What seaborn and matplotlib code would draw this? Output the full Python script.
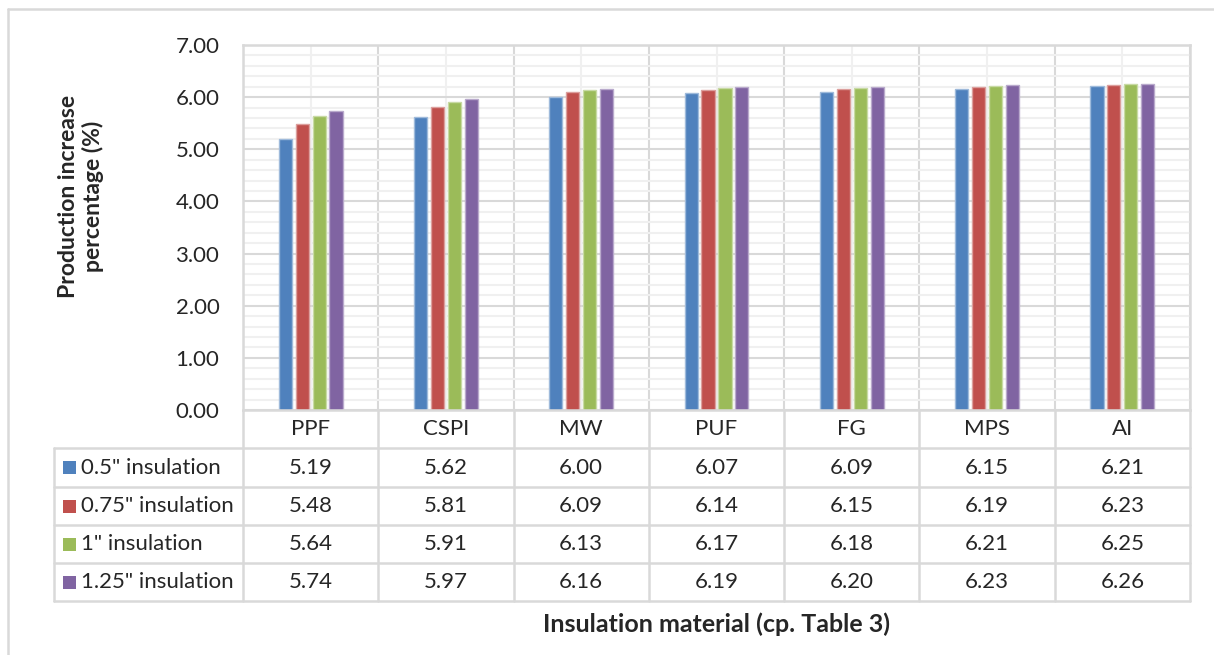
import matplotlib
matplotlib.use("Agg")
import matplotlib.pyplot as plt
import matplotlib.transforms as mtransforms
from matplotlib.lines import Line2D
from matplotlib.patches import Rectangle
import matplotlib.colors as mcolors
import seaborn as sns
import pandas as pd
import numpy as np

# ---------------- data ----------------
categories = ["PPF", "CSPI", "MW", "PUF", "FG", "MPS", "AI"]
series_names = ['0.5" insulation', '0.75" insulation', '1" insulation', '1.25" insulation']
ins_05 = [5.19, 5.62, 6.00, 6.07, 6.09, 6.15, 6.21]
ins_075 = [5.48, 5.81, 6.09, 6.14, 6.15, 6.19, 6.23]
ins_1 = [5.64, 5.91, 6.13, 6.17, 6.18, 6.21, 6.25]
ins_125 = [5.74, 5.97, 6.16, 6.19, 6.20, 6.23, 6.26]
y_tick_values = [0, 1, 2, 3, 4, 5, 6, 7]
y_tick_labels = ["0.00", "1.00", "2.00", "3.00", "4.00", "5.00", "6.00", "7.00"]
y_label = "Production increase\npercentage (%)"
x_label = "Insulation material (cp. Table 3)"
colors = ["#4F81BD", "#C0504D", "#9BBB59", "#8064A2"]

all_series = [ins_05, ins_075, ins_1, ins_125]
df = pd.DataFrame({
    "material": [c for s in all_series for c in categories],
    "series": [n for n, s in zip(series_names, all_series) for _ in s],
    "value": [v for s in all_series for v in s],
})

# ---------------- style ----------------
sns.set_style("white")
plt.rcParams["font.family"] = ["Lato", "DejaVu Sans"]
TXT = "#262626"
GRID = "#D9D9D9"
MINOR = "#F0F0F0"
FS = 16

W, H = 1214, 655
fig = plt.figure(figsize=(W / 100, H / 100), dpi=100)

def fx(px):
    return px / W

def fy(py):
    return 1 - py / H

L, R, T, B = 243, 1190, 45, 410
ax = fig.add_axes([fx(L), fy(B), (R - L) / W, (B - T) / H])

sns.barplot(data=df, x="material", y="value", hue="series", order=categories,
            hue_order=series_names, palette=colors, width=0.5, gap=0.22,
            saturation=1, legend=False, ax=ax, errorbar=None)

for p in ax.patches:
    fc = np.array(mcolors.to_rgb(p.get_facecolor()))
    p.set_edgecolor(tuple(fc + (1 - fc) * 0.45))
    p.set_linewidth(1.0)

ax.set_ylim(0, 7)
ax.set_xlim(-0.5, len(categories) - 0.5)
ax.set_yticks(y_tick_values)
ax.set_yticklabels(y_tick_labels, fontsize=FS, color=TXT)
ax.set_yticks(np.arange(0, 7.001, 0.2), minor=True)
ax.set_xticks(np.arange(-0.5, len(categories), 1.0))
ax.set_xticks(np.arange(0, len(categories), 1.0), minor=True)
ax.set_xticklabels([])
ax.tick_params(axis="both", which="both", length=0)
ax.tick_params(axis="y", pad=17)
ax.set_xlabel("")
ax.set_ylabel("")
ax.grid(which="minor", axis="both", color=MINOR, lw=1.5)
ax.grid(which="major", axis="both", color=GRID, lw=1.5)
ax.set_axisbelow(True)
for s in ax.spines.values():
    s.set_visible(True)
    s.set_color(GRID)
    s.set_linewidth(1.8)

# ---------------- data table ----------------
row_lines = [448, 487, 525, 563, 601]
tbl_left = 54
lc = GRID
lw = 1.8
for y in row_lines:
    fig.add_artist(Line2D([fx(tbl_left), fx(R)], [fy(y), fy(y)], color=lc, lw=lw))
step = (R - L) / len(categories)
for k in range(len(categories) + 1):
    x = L + k * step
    fig.add_artist(Line2D([fx(x), fx(x)], [fy(B), fy(row_lines[-1])], color=lc, lw=lw))
fig.add_artist(Line2D([fx(tbl_left), fx(tbl_left)], [fy(row_lines[0]), fy(row_lines[-1])], color=lc, lw=lw))

trans = mtransforms.blended_transform_factory(ax.transData, fig.transFigure)
for i, c in enumerate(categories):
    ax.text(i, fy((B + row_lines[0]) / 2), c, transform=trans, ha="center", va="center",
            fontsize=FS, color=TXT, clip_on=False)

for r, (name, vals, col) in enumerate(zip(series_names, all_series, colors)):
    yc = (row_lines[r] + row_lines[r + 1]) / 2
    fig.add_artist(Rectangle((fx(63), fy(yc + 6.5)), 13 / W, 13 / H, facecolor=col,
                             edgecolor="none", transform=fig.transFigure))
    fig.text(fx(81), fy(yc), name, ha="left", va="center", fontsize=FS, color=TXT)
    for i, v in enumerate(vals):
        ax.text(i, fy(yc), f"{v:.2f}", transform=trans, ha="center", va="center",
                fontsize=FS, color=TXT, clip_on=False)

# ---------------- axis titles ----------------
fig.text(fx(81), fy(196), y_label, rotation=90, ha="center", va="center",
         fontsize=16.5, fontweight="bold", color=TXT, linespacing=1.2, multialignment="center")
fig.text(fx((L + R) / 2), fy(624), x_label, ha="center", va="center",
         fontsize=18, fontweight="bold", color=TXT)

# outer chart frame
fig.add_artist(Line2D([fx(8), fx(W)], [fy(9), fy(9)], color=GRID, lw=1.8))
fig.add_artist(Line2D([fx(8), fx(8)], [fy(9), fy(H)], color=GRID, lw=1.8))

fig.savefig("out.png", dpi=100, facecolor="white")
